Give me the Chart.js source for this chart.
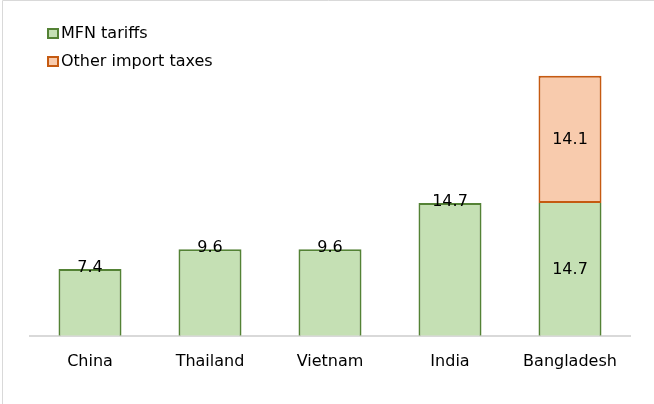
<!DOCTYPE html>
<html>
<head>
<meta charset="utf-8">
<script src="https://cdn.jsdelivr.net/npm/chart.js@4/dist/chart.umd.min.js"></script>
<style>
  html, body { margin: 0; padding: 0; background: #fff; }
  #wrap { width: 654px; height: 404px; position: relative; }
</style>
</head>
<body>
<div id="wrap"><canvas id="c" width="654" height="404"></canvas></div>
<script>
// Tariff components by country (percent)
const categories = ['China', 'Thailand', 'Vietnam', 'India', 'Bangladesh'];
const mfnTariffs = [7.4, 9.6, 9.6, 14.7, 14.7];
const otherImportTaxes = [null, null, null, null, 14.1];
const seriesNames = ['MFN tariffs', 'Other import taxes'];

const FONT = '"DejaVu Sans", Verdana, sans-serif';
const FONT_SIZE = 16;
const GREEN_FILL = '#c5e0b4', GREEN_LINE = '#548235';
const ORANGE_FILL = '#f8cbad', ORANGE_LINE = '#c55a11';

// Outer frame of the chart box
const framePlugin = {
  id: 'frame',
  beforeDraw(chart) {
    const ctx = chart.ctx;
    ctx.save();
    ctx.strokeStyle = '#d9d9d9';
    ctx.lineWidth = 1;
    ctx.beginPath();
    ctx.moveTo(2.5, chart.height);
    ctx.lineTo(2.5, 0.5);
    ctx.lineTo(chart.width, 0.5);
    ctx.stroke();
    ctx.restore();
  }
};

// Vertical legend in the top-left corner
const legendPlugin = {
  id: 'stackedLegend',
  afterDraw(chart) {
    const ctx = chart.ctx;
    const items = chart.data.datasets.map(ds => ({
      text: ds.label, fill: ds.backgroundColor, line: ds.borderColor
    }));
    ctx.save();
    ctx.font = FONT_SIZE + 'px ' + FONT;
    ctx.textBaseline = 'middle';
    items.forEach((it, i) => {
      const cy = 33 + i * 28;
      ctx.fillStyle = it.fill;
      ctx.fillRect(47, cy - 5, 12, 11);
      ctx.strokeStyle = it.line;
      ctx.lineWidth = 2;
      ctx.strokeRect(48, cy - 4, 10, 9);
      ctx.fillStyle = '#000';
      ctx.fillText(it.text, 61, cy + 1);
    });
    ctx.restore();
  }
};

// Value labels: on the top edge for single bars, centred inside stacked segments
const isStacked = (chart, i) => chart.data.datasets.filter(d => d.data[i] != null).length > 1;
const valueLabelPlugin = {
  id: 'valueLabels',
  afterDatasetsDraw(chart) {
    const ctx = chart.ctx;
    ctx.save();
    ctx.font = FONT_SIZE + 'px ' + FONT;
    ctx.fillStyle = '#000';
    ctx.textAlign = 'center';
    ctx.textBaseline = 'middle';
    chart.data.datasets.forEach((ds, di) => {
      const meta = chart.getDatasetMeta(di);
      meta.data.forEach((bar, i) => {
        const v = ds.data[i];
        if (v == null) return;
        const y = isStacked(chart, i) ? (bar.y + bar.base) / 2 : bar.y - 1;
        ctx.fillText(v.toFixed(1), bar.x, y);
      });
    });
    ctx.restore();
  }
};

new Chart(document.getElementById('c'), {
  type: 'bar',
  data: {
    labels: categories,
    datasets: [
      {
        label: seriesNames[0],
        data: mfnTariffs,
        backgroundColor: GREEN_FILL,
        borderColor: GREEN_LINE,
        // the segment below a stacked one leaves its top edge to the upper segment
        borderWidth: c => isStacked(c.chart, c.dataIndex)
          ? { top: 0, left: 2, right: 2, bottom: 0 }
          : { top: 2, left: 2, right: 2, bottom: 0 },
        borderSkipped: false
      },
      {
        label: seriesNames[1],
        data: otherImportTaxes,
        backgroundColor: ORANGE_FILL,
        borderColor: ORANGE_LINE,
        borderWidth: 2,
        borderSkipped: false
      }
    ]
  },
  options: {
    responsive: false,
    animation: false,
    devicePixelRatio: 1,
    layout: { padding: { left: 30, right: 24, top: 65, bottom: 17 } },
    datasets: { bar: { barPercentage: 0.525, categoryPercentage: 1 } },
    plugins: { legend: { display: false }, tooltip: { enabled: false } },
    scales: {
      x: {
        stacked: true,
        grid: { display: false, drawTicks: false },
        border: { display: true, color: '#d9d9d9', width: 2 },
        ticks: { color: '#000', font: { family: FONT, size: FONT_SIZE }, padding: 16 }
      },
      y: {
        stacked: true,
        display: false,
        min: 0,
        max: 30
      }
    }
  },
  plugins: [framePlugin, legendPlugin, valueLabelPlugin]
});
</script>
</body>
</html>
